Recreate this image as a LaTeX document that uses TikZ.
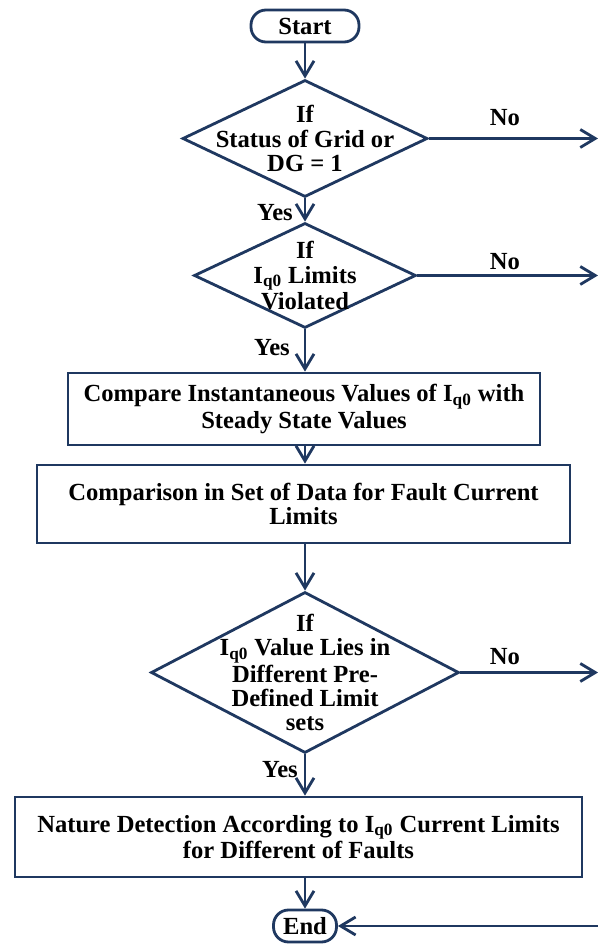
\documentclass[tikz,border=0pt]{standalone}
\usepackage{fontspec}
\setmainfont{Liberation Serif}
\usetikzlibrary{shapes.geometric}
\usetikzlibrary{arrows.meta}
\definecolor{flowblue}{RGB}{31,56,96}

\begin{document}
\begin{tikzpicture}[line width=1.6pt,
    txt/.style={align=center, inner sep=0pt, font=\bfseries\fontsize{14}{13.9}\selectfont},
    term/.style={txt, draw=flowblue, rectangle, rounded corners=0.3cm, minimum height=0.64cm},
    cond/.style={draw=flowblue, diamond, inner sep=0pt},
    proc/.style={txt, draw=flowblue, rectangle},
    flowarr/.style={draw=flowblue, -{Straight Barb[length=3mm,width=3.6mm]}}]
    \useasboundingbox (0,0) rectangle (11.96,18.9);
    \coordinate (rim) at (11.96,0);
    \node[term, minimum width=2.16cm] at (6.1,18.38) (start) {Start};
    \node[cond, minimum width=4.9cm, minimum height=2.34cm] at (6.1,16.13) (c1) {};
    \node[txt] at (c1) (t1) {If\\Status of Grid or\\DG = 1};
    \node[cond, minimum width=4.44cm, minimum height=2.1cm] at (6.1,13.39) (c2) {};
    \node[txt] at (c2) (t2) {If\\I\textsubscript{q0} Limits\\Violated};
    \node[proc, minimum width=9.44cm, minimum height=1.44cm] at (6.08,10.72) (p1) {Compare Instantaneous Values of I\textsubscript{q0} with\\Steady State Values};
    \node[proc, minimum width=10.66cm, minimum height=1.56cm] at (6.07,8.82) (p2) {Comparison in Set of Data for Fault Current\\Limits};
    \node[cond, minimum width=6.16cm, minimum height=3.22cm] at (6.1,5.45) (c3) {};
    \node[txt] at (c3) (t3) {If\\I\textsubscript{q0} Value Lies in\\Different Pre-\\Defined Limit\\sets};
    \node[proc, minimum width=11.34cm, minimum height=1.6cm] at (5.97,2.16) (p3) {Nature Detection According to I\textsubscript{q0} Current Limits\\for Different of Faults};
    \node[term, minimum width=1.26cm] at (6.1,0.38) (end) {End};
    \node[txt] at (10.1,16.54) (no1) {No};
    \node[txt] at (10.1,13.66) (no2) {No};
    \node[txt] at (10.1,5.76) (no3) {No};
    \node[txt] at (5.5,14.64) (yes1) {Yes};
    \node[txt] at (5.44,11.94) (yes2) {Yes};
    \node[txt] at (5.6,3.5) (yes3) {Yes};
    \draw[flowarr] (start) -- (c1);
    \draw[flowarr] (c1) -- (c2);
    \draw[flowarr] (c2) -- (c2 |- p1.north);
    \draw[flowarr] (c2 |- p1.south) -- (c2 |- p2.north);
    \draw[flowarr] (c3 |- p2.south) -- (c3);
    \draw[flowarr] (c3) -- (c3 |- p3.north);
    \draw[flowarr] (end |- p3.south) -- (end);
    \draw[flowarr] (c1.east) -- (c1.east -| rim);
    \draw[flowarr] (c2.east) -- (c2.east -| rim);
    \draw[flowarr] (c3.east) -- (c3.east -| rim);
    \draw[flowarr] (end.east -| rim) -- (end.east);
\end{tikzpicture}
\end{document}
